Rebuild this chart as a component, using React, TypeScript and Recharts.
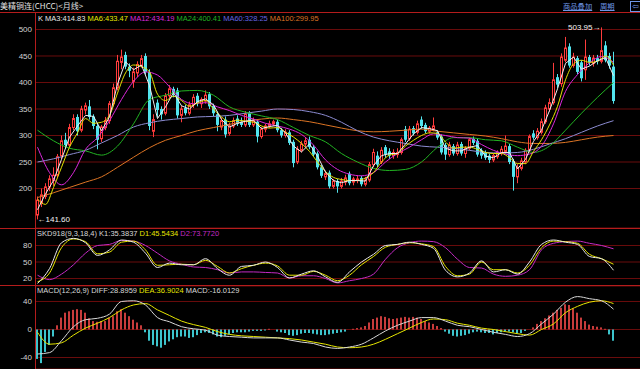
import React from "react";
import {
  Bar,
  CartesianGrid,
  Cell,
  ComposedChart,
  Line,
  ReferenceDot,
  XAxis,
  YAxis,
} from "recharts";

// monthly bars, oldest first (145 months)
const opens = [
  150, 172, 185, 203, 215, 225, 262, 292, 282, 315,
  335, 310, 348, 355, 336, 318, 294, 315, 328, 360,
  390, 438, 452, 430, 402, 418, 432, 450, 420, 308,
  362, 350, 342, 375, 388, 385, 338, 352, 342, 358,
  375, 360, 365, 378, 356, 340, 316, 330, 304, 318,
  332, 326, 320, 342, 320, 326, 298, 312, 318, 322,
  326, 310, 300, 306, 288, 250, 272, 284, 292, 278,
  266, 240, 222, 230, 204, 214, 204, 212, 228, 212,
  216, 220, 208, 216, 245, 262, 250, 278, 270, 262,
  264, 268, 312, 294, 314, 306, 330, 320, 308, 312,
  306, 298, 282, 264, 280, 266, 284, 266, 276, 294,
  290, 272, 268, 262, 254, 260, 266, 270, 280, 252,
  222, 238, 250, 272, 304, 296, 306, 326, 350, 362,
  410, 398, 442, 468, 432, 446, 438, 424, 448, 436,
  446, 440, 470, 450, 430,
];
const highs = [
  185, 200, 210, 225, 240, 265, 300, 305, 322, 340,
  340, 356, 362, 367, 340, 322, 320, 335, 365, 398,
  452, 462, 458, 436, 428, 440, 452, 455, 425, 340,
  368, 355, 380, 395, 392, 390, 356, 358, 364, 378,
  380, 372, 385, 382, 360, 345, 334, 336, 324, 334,
  338, 334, 346, 346, 334, 330, 316, 322, 328, 330,
  330, 314, 312, 310, 292, 280, 290, 296, 298, 282,
  270, 244, 234, 234, 218, 218, 220, 226, 232, 222,
  224, 224, 222, 250, 275, 270, 278, 282, 276, 274,
  276, 296, 318, 318, 318, 328, 336, 324, 318, 334,
  310, 302, 286, 288, 284, 288, 288, 280, 296, 298,
  294, 276, 272, 266, 266, 272, 280, 300, 284, 256,
  246, 258, 276, 302, 310, 314, 332, 358, 370, 437,
  416, 455, 486, 474, 456, 450, 442, 481, 452, 452,
  452, 503.95, 478, 456, 458,
];
const lows = [
  141.6, 165, 180, 195, 205, 220, 255, 275, 278, 310,
  300, 306, 340, 330, 312, 274, 288, 310, 322, 355,
  385, 425, 425, 410, 390, 410, 428, 415, 310, 297,
  335, 330, 338, 370, 372, 332, 325, 338, 338, 352,
  355, 352, 360, 350, 336, 308, 310, 296, 300, 314,
  318, 316, 316, 316, 316, 287, 294, 306, 314, 318,
  306, 296, 296, 282, 240, 246, 268, 278, 274, 260,
  236, 220, 216, 200, 200, 192, 200, 206, 206, 206,
  210, 204, 204, 212, 240, 240, 246, 258, 256, 256,
  258, 264, 288, 290, 300, 302, 312, 304, 304, 308,
  292, 264, 254, 260, 262, 262, 262, 258, 272, 282,
  260, 256, 254, 248, 250, 256, 262, 266, 246, 196,
  210, 234, 246, 268, 292, 292, 302, 322, 345, 358,
  390, 392, 438, 428, 428, 416, 402, 405, 432, 430,
  434, 436, 438, 426, 360,
];
const closes = [
  178, 188, 203, 218, 225, 260, 290, 282, 315, 332,
  308, 350, 356, 335, 318, 292, 316, 328, 360, 390,
  440, 448, 430, 422, 420, 434, 445, 420, 318, 330,
  348, 340, 375, 388, 380, 338, 350, 342, 358, 372,
  362, 368, 376, 355, 342, 320, 328, 302, 318, 328,
  322, 320, 340, 320, 328, 298, 312, 318, 322, 326,
  310, 300, 306, 286, 248, 274, 284, 290, 278, 264,
  240, 224, 228, 204, 214, 204, 214, 220, 210, 218,
  218, 208, 216, 245, 268, 245, 272, 264, 262, 268,
  268, 292, 292, 312, 304, 322, 318, 308, 314, 318,
  296, 268, 264, 282, 266, 282, 266, 276, 292, 286,
  264, 262, 258, 254, 262, 268, 274, 280, 250, 222,
  240, 252, 272, 298, 296, 308, 326, 352, 362, 405,
  396, 448, 465, 432, 448, 420, 408, 448, 438, 446,
  440, 460, 442, 432, 365,
];

// moving averages (ma3/ma6 every 2nd month, ma12 every 3rd, the rest every 4th)
const ma3 = [
  160, 190, 215, 255, 297, 318, 338, 336, 309, 335, 397, 439, 424, 433, 394, 332, 354, 381, 356, 350,
  364, 369, 358, 330, 316, 323, 327, 329, 313, 317, 319, 305, 280, 269, 284, 261, 231, 215, 211, 215,
  215, 214, 243, 262, 266, 266, 284, 303, 315, 313, 309, 276, 271, 271, 278, 281, 261, 258, 268, 268,
  237, 255, 289, 310, 347, 388, 436, 448, 425, 431, 441, 447, 413,
];
const ma6 = [
  180, 170, 202, 240, 278, 305, 332, 323, 325, 338, 380, 418, 433, 430, 420, 378, 366, 374, 366, 355,
  361, 366, 350, 335, 326, 329, 327, 325, 318, 314, 315, 306, 297, 285, 270, 250, 232, 221, 217, 215,
  215, 220, 230, 250, 263, 266, 280, 291, 300, 305, 304, 288, 276, 278, 278, 274, 268, 266, 266, 258,
  247, 247, 270, 292, 320, 355, 405, 435, 442, 438, 440, 450, 433,
];
const ma12 = [
  278, 230, 207, 230, 274, 296, 328, 368, 402, 420, 414, 392, 368, 360, 362, 354, 347, 338, 331, 323,
  318, 312, 302, 282, 254, 236, 227, 224, 230, 250, 266, 278, 292, 303, 300, 296, 295, 283, 272, 265,
  262, 265, 280, 322, 383, 415, 437, 449, 438,
];
const ma24 = [
  310, 290, 276, 271, 263, 280, 322, 368, 376, 384, 385, 376, 354, 344, 337, 330, 315, 300, 288, 266,
  250, 238, 234, 236, 250, 278, 296, 296, 292, 290, 278, 268, 280, 310, 342, 372, 400,
];
const ma60 = [
  250, 256, 264, 272, 286, 300, 316, 324, 329, 332, 335, 336, 338, 342, 346, 350, 349, 345, 338, 325,
  309, 297, 290, 285, 280, 278, 276, 272, 268, 267, 268, 274, 284, 294, 306, 318, 328,
];
const ma100 = [
  183, 192, 202, 212, 222, 240, 259, 277, 291, 300, 309, 315, 321, 327, 331, 333, 330, 326, 320, 314,
  309, 307, 308, 310, 312, 308, 305, 302, 299, 294, 288, 285, 285, 287, 292, 297, 300,
];

// SKD918, every 3rd month
const k1 = [
  11, 38, 85, 93, 85, 62, 72, 90, 86, 66, 40, 48, 45, 45, 56, 38, 26, 42, 44, 50,
  40, 21, 28, 34, 23, 13, 32, 50, 64, 80, 82, 86, 82, 75, 35, 23, 30, 52, 32, 36,
  28, 50, 82, 90, 86, 82, 60, 56, 35,
];
const d1 = [
  14, 30, 76, 92, 87, 65, 68, 86, 88, 72, 44, 45, 46, 45, 53, 42, 30, 38, 44, 48,
  43, 26, 26, 33, 26, 16, 26, 45, 60, 77, 82, 85, 83, 78, 42, 25, 28, 50, 36, 36,
  30, 44, 76, 88, 87, 84, 64, 56, 46,
];
const d2 = [
  26, 18, 28, 45, 66, 80, 82, 89, 88, 80, 66, 52, 46, 41, 40, 36, 30, 32, 32, 31,
  30, 21, 25, 25, 20, 12, 16, 20, 28, 55, 76, 85, 88, 87, 76, 55, 40, 39, 28, 24,
  26, 36, 72, 84, 87, 88, 84, 80, 74,
];

// MACD(12,26,9): DIFF / DEA every 3rd month, histogram every month
const diff = [
  -35, -33, -16, 4, 14, 16, 22, 40, 41, 35, 17, 11, 4, 1, -1, -8, -10, -11, -12, -12,
  -12, -15, -18, -20, -25, -27, -25, -21, -12, -2, 6, 12, 17, 17, 12, 6, 4, 0, -4, -7,
  -10, -6, 8, 22, 39, 47, 44, 41, 29,
];
const dea = [
  -4, -21, -19, -8, 2, 9, 17, 28, 35, 37, 28, 20, 12, 7, 3, -3, -7, -9, -10, -11,
  -12, -13, -15, -18, -21, -25, -26, -25, -21, -14, -6, 2, 10, 15, 14, 9, 6, 2, 0, -3,
  -6, -8, 0, 8, 24, 33, 39, 41, 37,
];
const macdHist = [
  -42, -48, -32, -22, -10, 6, 17, 24, 26, 28,
  29, 28, 24, 16, 12, 11, 12, 12, 17, 19,
  26, 29, 24, 19, 14, 10, 6, -4, -16, -22,
  -24, -26, -22, -17, -14, -11, -10, -10, -12, -11,
  -8, -5, -4, -5, -7, -10, -11, -9, -7, -5,
  -4, -4, -4, -3, -2, -2, -2, -1, 1, 0,
  -3, -4, -5, -8, -9, -8, -6, -5, -5, -6,
  -7, -8, -8, -7, -6, -5, -4, -3, 0, 1,
  2, 3, 5, 10, 15, 17, 19, 18, 16, 15,
  16, 17, 18, 17, 18, 17, 15, 12, 10, 8,
  5, 2, -3, -6, -9, -10, -9, -8, -6, -4,
  -3, -4, -5, -5, -7, -5, -4, -3, -3, -4,
  -6, -5, -2, 0, 3, 8, 12, 16, 20, 24,
  28, 31, 36, 35, 30, 24, 17, 12, 7, 5,
  4, 3, 1, -7, -16,
];

const priceTicks = [200, 250, 300, 350, 400, 450, 500];
const kdjTicks = [20, 50, 80];
const macdTicks = [-40, 0, 40];

const candles = closes.map((c, i) => ({
  i,
  o: opens[i],
  h: highs[i],
  l: lows[i],
  c,
  range: [lows[i], highs[i]],
}));
const histRows = macdHist.map((m, i) => ({ i, m }));
const every = (vals: number[], step: number) => vals.map((v, k) => ({ i: k * step, v }));

const RED = "#ff3c3c";
const CYAN = "#52e4ee";
const HIST_RED = "#c83c3c";
const HIST_CYAN = "#3cc4cc";
const GRID = "#6a0c0c";
const EDGE = "#b41c1c";
const TICK_COLOR = "#d2d2d2";
const FONT = "'Liberation Sans', Arial, sans-serif";
const X_DOMAIN = [-0.375, 150.625];

const tick = { fill: TICK_COLOR, fontSize: 8, fontFamily: FONT };

function Candle(props: any) {
  const { x, y, width, height, payload } = props;
  if (!payload || !height) return null;
  const { o, c, h, l } = payload;
  const k = height / (h - l);
  const cx = Math.floor(x + width / 2) + 0.5;
  const top = y + (h - Math.max(o, c)) * k;
  const bodyH = Math.max(1, Math.abs(o - c) * k);
  if (c >= o) {
    return (
      <g>
        <line x1={cx} x2={cx} y1={y} y2={top} stroke={RED} />
        <line x1={cx} x2={cx} y1={top + bodyH} y2={y + height} stroke={RED} />
        <rect x={cx - 1} y={top} width={2} height={bodyH} fill="#000" stroke={RED} />
      </g>
    );
  }
  return (
    <g>
      <line x1={cx} x2={cx} y1={y} y2={y + height} stroke={CYAN} />
      <rect x={cx - 1.5} y={top} width={3} height={bodyH} fill={CYAN} />
    </g>
  );
}

// thin histogram stick, colour comes from the Cell
function Stick(props: any) {
  const { x, y, width, height, fill } = props;
  if (!height) return null;
  return (
    <rect
      x={Math.floor(x + width / 2) - 1}
      y={Math.min(y, y + height)}
      width={2}
      height={Math.max(1, Math.abs(height))}
      fill={fill}
    />
  );
}

function series(vals: number[], step: number, color: string, type: "linear" | "monotone" = "monotone") {
  return (
    <Line
      key={color + step}
      data={every(vals, step)}
      dataKey="v"
      type={type}
      stroke={color}
      strokeWidth={1}
      dot={false}
      activeDot={false}
      isAnimationActive={false}
    />
  );
}

const Legend = ({ x, y, parts }: { x: number; y: number; parts: [string, string][] }) => (
  <div
    style={{
      position: "absolute",
      left: x,
      top: y - 5,
      lineHeight: "10px",
      fontSize: 7.5,
      whiteSpace: "pre",
      fontFamily: FONT,
    }}
  >
    {parts.map(([text, color], n) => (
      <span key={n} style={{ color, marginLeft: n > 0 ? 2 : 0 }}>
        {text}
      </span>
    ))}
  </div>
);

const HLine = ({ y }: { y: number }) => (
  <div style={{ position: "absolute", left: 0, top: y, width: 640, height: 1, background: EDGE }} />
);

const linkStyle: React.CSSProperties = {
  position: "absolute",
  top: 0,
  lineHeight: "12px",
  fontSize: 7.3,
  color: "#6e96e6",
  fontFamily: "'Noto Sans CJK SC', sans-serif",
  textDecoration: "underline",
  whiteSpace: "nowrap",
};

const panelStyle = (top: number): React.CSSProperties => ({ position: "absolute", left: 0, top });
const margin = { top: 0, right: 0, bottom: 0, left: 0 };

export default function App() {
  const axisX = <XAxis dataKey="i" type="number" domain={X_DOMAIN} allowDataOverflow hide />;
  const axisY = (domain: number[], ticks: number[]) => (
    <YAxis
      type="number"
      domain={domain}
      allowDataOverflow
      ticks={ticks}
      interval={0}
      width={36}
      axisLine={false}
      tickLine={false}
      tickSize={0}
      tickMargin={4}
      tick={tick}
    />
  );
  return (
    <div
      style={{
        position: "fixed",
        left: 0,
        top: 0,
        width: 640,
        height: 369,
        background: "#000",
        overflow: "hidden",
      }}
    >
      <div style={panelStyle(12)}>
        <ComposedChart width={640} height={216} data={candles} margin={margin}>
          <CartesianGrid vertical={false} stroke={GRID} />
          {axisX}
          {axisY([125.5, 533], priceTicks)}
          <Bar dataKey="range" barSize={3} shape={<Candle />} isAnimationActive={false} />
          {series(ma100, 4, "#dc7424")}
          {series(ma60, 4, "#8c8cd2")}
          {series(ma24, 4, "#22b422")}
          {series(ma12, 3, "#dc28dc")}
          {series(ma6, 2, "#e6e600")}
          {series(ma3, 2, "#f0f0f0", "linear")}
          <ReferenceDot
            x={141}
            y={503.95}
            r={1}
            fill="none"
            stroke="none"
            label={(p: any) => (
              <text
                x={p.viewBox.x + p.viewBox.width / 2 - 1}
                y={p.viewBox.y + p.viewBox.height / 2 + 3}
                textAnchor="end"
                fill="#f4f4f4"
                fontSize={8}
                fontFamily={FONT}
              >
                503.95→
              </text>
            )}
          />
          <ReferenceDot
            x={0}
            y={141.6}
            r={1}
            fill="none"
            stroke="none"
            label={(p: any) => (
              <text
                x={p.viewBox.x + p.viewBox.width / 2}
                y={p.viewBox.y + p.viewBox.height / 2 + 3}
                textAnchor="start"
                fill="#f4f4f4"
                fontSize={8}
                fontFamily={FONT}
              >
                ←141.60
              </text>
            )}
          />
        </ComposedChart>
      </div>

      <div style={panelStyle(228)}>
        <ComposedChart width={640} height={58} data={candles} margin={margin}>
          <CartesianGrid vertical={false} stroke={GRID} />
          {axisX}
          {axisY([6.4, 111.8], kdjTicks)}
          {series(d2, 3, "#c42ac4")}
          {series(d1, 3, "#e6e600")}
          {series(k1, 3, "#e8e8e8")}
        </ComposedChart>
      </div>

      <div style={panelStyle(286)}>
        <ComposedChart width={640} height={83} data={histRows} margin={margin}>
          <CartesianGrid vertical={false} stroke={GRID} />
          {axisX}
          {axisY([-56.4, 62.1], macdTicks)}
          <Bar dataKey="m" barSize={2} shape={<Stick />} isAnimationActive={false}>
            {histRows.map((r) => (
              <Cell key={r.i} fill={r.m >= 0 ? HIST_RED : HIST_CYAN} />
            ))}
          </Bar>
          {series(dea, 3, "#e6e600")}
          {series(diff, 3, "#d8d8d8")}
        </ComposedChart>
      </div>

      {/* panel frames */}
      <HLine y={12} />
      <HLine y={228} />
      <HLine y={285} />
      <div style={{ position: "absolute", left: 35, top: 12, width: 1, height: 357, background: EDGE }} />

      {/* title bar */}
      <div
        style={{
          position: "absolute",
          left: 0,
          top: 0,
          lineHeight: "12px",
          fontSize: 8,
          color: "#e2e2e2",
          fontFamily: "'Noto Sans CJK SC', sans-serif",
          whiteSpace: "nowrap",
        }}
      >
        美精铜连(CHCC)&lt;月线&gt;
      </div>
      <div style={{ ...linkStyle, left: 563 }}>商品叠加</div>
      <div style={{ ...linkStyle, left: 600 }}>周期</div>
      <div
        style={{
          position: "absolute",
          top: 1,
          left: 630,
          lineHeight: "9px",
          fontSize: 8,
          color: "#6e96e6",
          border: "1px solid #6e96e6",
          fontFamily: "'DejaVu Sans', sans-serif",
          padding: "0 1px",
        }}
      >
        ⇦
      </div>

      <Legend
        x={38}
        y={19}
        parts={[
          ["K", "#e8e8e8"],
          ["MA3:414.83", "#e8e8e8"],
          ["MA6:433.47", "#e6e600"],
          ["MA12:434.19", "#dc28dc"],
          ["MA24:400.41", "#22b422"],
          ["MA60:328.25", "#6464e0"],
          ["MA100:299.95", "#dc7424"],
        ]}
      />
      <Legend
        x={37}
        y={234}
        parts={[
          ["SKD918(9,3,18,4) K1:35.3837", "#d8d8d8"],
          ["D1:45.5434", "#e6e600"],
          ["D2:73.7720", "#c42ac4"],
        ]}
      />
      <Legend
        x={37}
        y={291}
        parts={[
          ["MACD(12,26,9) DIFF:28.8959", "#d8d8d8"],
          ["DEA:36.9024", "#e6e600"],
          ["MACD:-16.0129", "#d8d8d8"],
        ]}
      />
    </div>
  );
}
